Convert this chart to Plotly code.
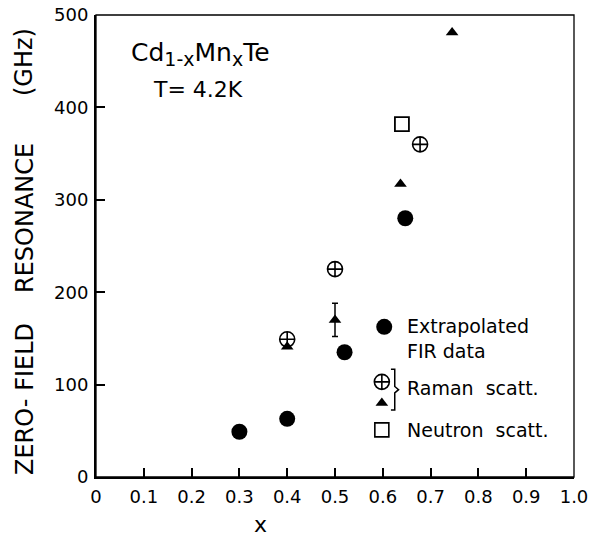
import plotly.graph_objects as go

# ---- data ----
fir_x = [0.30, 0.40, 0.52, 0.647]
fir_y = [49, 63, 135, 280]

raman_oplus_x = [0.40, 0.50, 0.678]
raman_oplus_y = [149, 225, 360]

raman_tri_x = [0.40, 0.50, 0.637, 0.745]
raman_tri_y = [141, 170, 317, 481]
raman_tri_err = [0, 18, 0, 0]

neutron_x = [0.640]
neutron_y = [382]

x_ticks = [0, 0.1, 0.2, 0.3, 0.4, 0.5, 0.6, 0.7, 0.8, 0.9, 1.0]
x_tick_text = ["0", "0.1", "0.2", "0.3", "0.4", "0.5", "0.6", "0.7", "0.8", "0.9", "1.0"]
y_ticks = [0, 100, 200, 300, 400, 500]

# legend glyph positions (fractions of the plot area)
leg_sym = ["circle", "circle-cross-open", "triangle-up", "square-open"]
leg_x = [0.603, 0.598, 0.598, 0.598]
leg_y = [0.325, 0.206, 0.160, 0.102]
leg_size = [16, 15, 11, 14]

FONT = "DejaVu Sans"
BLACK = "#000000"

fig = go.Figure()

fig.add_trace(go.Scatter(
    x=fir_x, y=fir_y, mode="markers",
    marker=dict(symbol="circle", size=16, color=BLACK, opacity=1),
    showlegend=False, cliponaxis=False))
fig.add_trace(go.Scatter(
    x=raman_oplus_x, y=raman_oplus_y, mode="markers",
    marker=dict(symbol="circle-cross-open", size=15, color=BLACK, opacity=1,
                line=dict(width=1.6, color=BLACK)),
    showlegend=False, cliponaxis=False))
fig.add_trace(go.Scatter(
    x=raman_tri_x, y=raman_tri_y, mode="markers",
    marker=dict(symbol="triangle-up", size=11, color=BLACK, opacity=1),
    error_y=dict(type="data", array=raman_tri_err, visible=True,
                 color=BLACK, thickness=1.5, width=3),
    showlegend=False, cliponaxis=False))
fig.add_trace(go.Scatter(
    x=neutron_x, y=neutron_y, mode="markers",
    marker=dict(symbol="square-open", size=14, color=BLACK, opacity=1,
                line=dict(width=1.8, color=BLACK)),
    showlegend=False, cliponaxis=False))

# legend glyphs on an overlay axis spanning the plot area
for s, lx, ly, sz in zip(leg_sym, leg_x, leg_y, leg_size):
    fig.add_trace(go.Scatter(
        x=[lx], y=[ly], xaxis="x2", yaxis="y2", mode="markers",
        marker=dict(symbol=s, size=sz, color=BLACK, opacity=1,
                    line=dict(width=1.6 if "open" in s else 0, color=BLACK)),
        showlegend=False, hoverinfo="skip", cliponaxis=False))

axis_common = dict(
    showline=True, linecolor=BLACK, linewidth=2,
    ticks="inside", ticklen=9, tickwidth=1.5, tickcolor=BLACK,
    showgrid=False, zeroline=False, automargin=False,
    tickfont=dict(family=FONT, size=18, color=BLACK),
)

def ylab(text, center_px):
    return dict(text=text, xref="paper", yref="paper",
                x=-(96 - 24.5) / 478, y=(477 - center_px) / 462,
                xanchor="center", yanchor="middle", textangle=-90,
                showarrow=False, font=dict(family=FONT, size=24, color=BLACK))

def leg_text(text, fy):
    return dict(text=text, xref="paper", yref="paper", x=0.646, y=fy,
                xanchor="left", yanchor="middle", showarrow=False,
                font=dict(family=FONT, size=19, color=BLACK))

fig.update_layout(
    width=591, height=536,
    margin=dict(l=96, r=17, t=15, b=59, autoexpand=False),
    paper_bgcolor="white", plot_bgcolor="white",
    xaxis=dict(range=[0, 1.0], tickvals=x_ticks, ticktext=x_tick_text,
               ticklabelstandoff=2, **axis_common),
    yaxis=dict(range=[0, 500], tickvals=y_ticks,
               ticklabelstandoff=2, **axis_common),
    xaxis2=dict(range=[0, 1], overlaying="x", visible=False, automargin=False),
    yaxis2=dict(range=[0, 1], overlaying="y", visible=False, automargin=False),
    shapes=[
        dict(type="rect", xref="paper", yref="paper", x0=0, y0=0, x1=1, y1=1,
             line=dict(color=BLACK, width=1.3)),
        dict(type="path", xref="paper", yref="paper",
             path="M0.617,0.233 L0.625,0.233 L0.625,0.196 L0.633,0.189 "
                  "L0.625,0.182 L0.625,0.145 L0.617,0.145",
             line=dict(color=BLACK, width=1.5)),
    ],
    annotations=[
        dict(text="Cd<sub><span style='font-size:19px'>1-x</span></sub>Mn"
                  "<sub><span style='font-size:19px'>x</span></sub>Te",
             xref="paper", yref="paper",
             x=0.068, y=0.915, xanchor="left", yanchor="middle", showarrow=False,
             font=dict(family=FONT, size=25, color=BLACK)),
        dict(text="T= 4.2K", xref="paper", yref="paper",
             x=0.116, y=0.838, xanchor="left", yanchor="middle", showarrow=False,
             font=dict(family=FONT, size=22, color=BLACK)),
        leg_text("Extrapolated", 0.327),
        leg_text("FIR data", 0.273),
        leg_text("Raman  scatt.", 0.193),
        leg_text("Neutron  scatt.", 0.102),
        dict(text="x", xref="paper", yref="paper",
             x=(260 - 96) / 478, y=-(524 - 477) / 462, xanchor="center", yanchor="middle",
             showarrow=False, font=dict(family=FONT, size=22, color=BLACK)),
        ylab("ZERO- FIELD", 399.5),
        ylab("RESONANCE", 218.5),
        ylab("(GHz)", 62.5),
    ],
)

fig.write_html("out.html")
